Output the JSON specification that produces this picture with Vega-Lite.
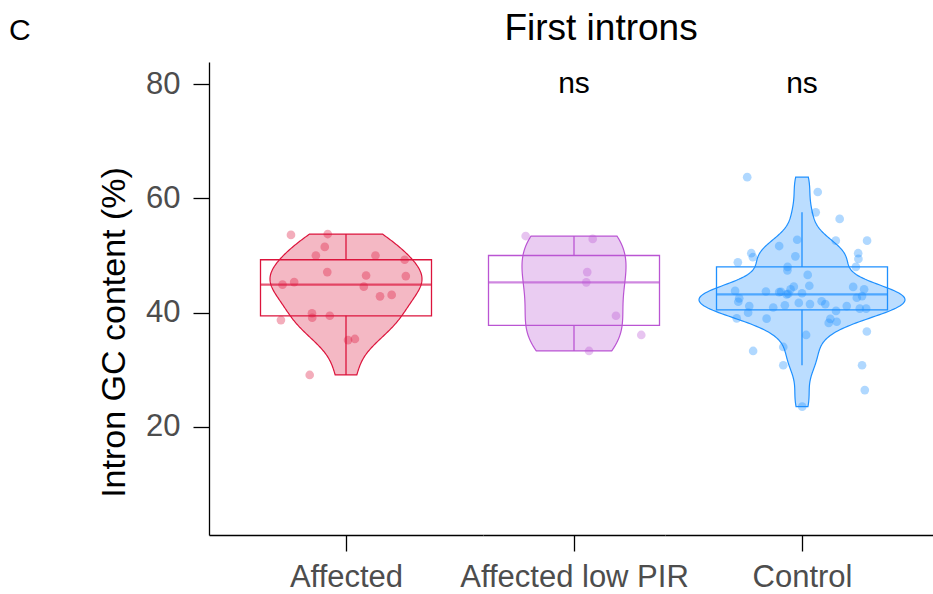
{
  "$schema": "https://vega.github.io/schema/vega-lite/v6.json",
  "padding": {"left": 9, "top": 10, "right": 0, "bottom": 0},
  "background": "white",
  "data": {"values": [
    {"group":"Affected","gc":53.6,"jitter":-0.241},
    {"group":"Affected","gc":53.75,"jitter":-0.08},
    {"group":"Affected","gc":51.5,"jitter":-0.093},
    {"group":"Affected","gc":50.0,"jitter":-0.132},
    {"group":"Affected","gc":50.0,"jitter":0.129},
    {"group":"Affected","gc":49.25,"jitter":0.257},
    {"group":"Affected","gc":47.1,"jitter":-0.082},
    {"group":"Affected","gc":46.5,"jitter":0.088},
    {"group":"Affected","gc":46.4,"jitter":0.262},
    {"group":"Affected","gc":44.9,"jitter":-0.278},
    {"group":"Affected","gc":45.35,"jitter":-0.227},
    {"group":"Affected","gc":44.55,"jitter":0.078},
    {"group":"Affected","gc":42.85,"jitter":0.149},
    {"group":"Affected","gc":43.1,"jitter":0.2},
    {"group":"Affected","gc":39.9,"jitter":-0.149},
    {"group":"Affected","gc":39.1,"jitter":-0.148},
    {"group":"Affected","gc":39.45,"jitter":-0.071},
    {"group":"Affected","gc":38.7,"jitter":-0.285},
    {"group":"Affected","gc":35.2,"jitter":0.009},
    {"group":"Affected","gc":35.4,"jitter":0.039},
    {"group":"Affected","gc":29.1,"jitter":-0.159},
    {"group":"Affected low PIR","gc":53.4,"jitter":-0.212},
    {"group":"Affected low PIR","gc":52.9,"jitter":0.082},
    {"group":"Affected low PIR","gc":47.1,"jitter":0.058},
    {"group":"Affected low PIR","gc":45.3,"jitter":0.054},
    {"group":"Affected low PIR","gc":39.45,"jitter":0.184},
    {"group":"Affected low PIR","gc":36.1,"jitter":0.295},
    {"group":"Affected low PIR","gc":33.3,"jitter":0.066},
    {"group":"Control","gc":63.7,"jitter":-0.24},
    {"group":"Control","gc":61.1,"jitter":0.069},
    {"group":"Control","gc":57.55,"jitter":0.06},
    {"group":"Control","gc":56.4,"jitter":0.165},
    {"group":"Control","gc":52.6,"jitter":0.285},
    {"group":"Control","gc":52.6,"jitter":0.148},
    {"group":"Control","gc":52.75,"jitter":-0.021},
    {"group":"Control","gc":51.65,"jitter":-0.1},
    {"group":"Control","gc":50.4,"jitter":-0.222},
    {"group":"Control","gc":49.7,"jitter":-0.215},
    {"group":"Control","gc":49.85,"jitter":-0.029},
    {"group":"Control","gc":50.4,"jitter":0.246},
    {"group":"Control","gc":49.4,"jitter":0.247},
    {"group":"Control","gc":48.8,"jitter":-0.281},
    {"group":"Control","gc":48.0,"jitter":-0.063},
    {"group":"Control","gc":47.4,"jitter":-0.064},
    {"group":"Control","gc":48.0,"jitter":0.236},
    {"group":"Control","gc":46.6,"jitter":0.025},
    {"group":"Control","gc":44.7,"jitter":0.032},
    {"group":"Control","gc":44.55,"jitter":-0.036},
    {"group":"Control","gc":44.1,"jitter":-0.05},
    {"group":"Control","gc":43.65,"jitter":-0.092},
    {"group":"Control","gc":43.7,"jitter":-0.158},
    {"group":"Control","gc":43.8,"jitter":-0.293},
    {"group":"Control","gc":43.2,"jitter":-0.067},
    {"group":"Control","gc":43.3,"jitter":-0.06},
    {"group":"Control","gc":43.4,"jitter":0.0},
    {"group":"Control","gc":43.6,"jitter":-0.1},
    {"group":"Control","gc":44.5,"jitter":0.224},
    {"group":"Control","gc":44.1,"jitter":0.272},
    {"group":"Control","gc":42.9,"jitter":0.263},
    {"group":"Control","gc":42.6,"jitter":0.24},
    {"group":"Control","gc":42.5,"jitter":-0.275},
    {"group":"Control","gc":41.9,"jitter":-0.279},
    {"group":"Control","gc":41.15,"jitter":-0.231},
    {"group":"Control","gc":40.9,"jitter":-0.126},
    {"group":"Control","gc":41.3,"jitter":-0.075},
    {"group":"Control","gc":41.7,"jitter":-0.014},
    {"group":"Control","gc":41.5,"jitter":0.035},
    {"group":"Control","gc":42.0,"jitter":0.086},
    {"group":"Control","gc":41.5,"jitter":0.102},
    {"group":"Control","gc":41.15,"jitter":0.196},
    {"group":"Control","gc":40.3,"jitter":0.149},
    {"group":"Control","gc":40.7,"jitter":0.253},
    {"group":"Control","gc":40.7,"jitter":0.281},
    {"group":"Control","gc":40.0,"jitter":-0.236},
    {"group":"Control","gc":39.0,"jitter":-0.286},
    {"group":"Control","gc":38.95,"jitter":-0.155},
    {"group":"Control","gc":38.9,"jitter":0.124},
    {"group":"Control","gc":38.2,"jitter":0.117},
    {"group":"Control","gc":38.4,"jitter":0.152},
    {"group":"Control","gc":36.7,"jitter":0.284},
    {"group":"Control","gc":36.1,"jitter":0.018},
    {"group":"Control","gc":33.3,"jitter":-0.214},
    {"group":"Control","gc":34.0,"jitter":-0.082},
    {"group":"Control","gc":30.8,"jitter":-0.082},
    {"group":"Control","gc":30.8,"jitter":0.263},
    {"group":"Control","gc":26.45,"jitter":0.275},
    {"group":"Control","gc":23.55,"jitter":0.001},
    {"group":"Affected low PIR","label":"ns"},
    {"group":"Control","label":"ns"}
  ]},
  "spacing": 0,
  "bounds": "flush",
  "hconcat": [
    {
      "width": 274, "height": 473,
      "title": {"text": "C", "anchor": "start", "frame": "group", "fontSize": 30, "fontWeight": "normal", "color": "black", "font": "Liberation Sans", "dx": -200, "dy": -2, "offset": 14},
      "transform": [{"filter": {"field": "group", "equal": "Affected"}}],
      "layer": [
        {
          "transform": [{"filter": {"field": "gc", "valid": true}}, {"density": "gc", "bandwidth": 3.16, "groupby": ["group"], "steps": 200}],
          "mark": {"type": "area", "orient": "horizontal", "color": "crimson", "fillOpacity": 0.3, "stroke": "crimson", "strokeWidth": 1.2},
          "encoding": {
            "y": {"field": "value", "type": "quantitative", "scale": {"domain": [1.1, 83.85], "nice": false, "zero": false},
              "axis": {"values": [20, 40, 60, 80], "tickSize": 16, "tickWidth": 1.3, "tickColor": "black", "domainColor": "black", "domainWidth": 1.3, "grid": false,
                "labelFontSize": 31, "labelColor": "#4d4d4d", "labelFont": "Liberation Sans", "labelPadding": 13,
                "title": "Intron GC content (%)", "titleFontSize": 34, "titleFontWeight": "normal", "titleColor": "black", "titleFont": "Liberation Sans", "titlePadding": 14, "titleY": 270}},
            "x": {"field": "density", "type": "quantitative", "stack": "center", "impute": null, "scale": {"nice": false, "padding": 61}, "axis": null}
          }
        },
        {
          "transform": [{"filter": {"field": "gc", "valid": true}}],
          "mark": {"type": "boxplot", "extent": 1.5, "size": 171, "outliers": false, "ticks": false,
            "box": {"color": "crimson", "fillOpacity": 0, "stroke": "crimson", "strokeWidth": 1.3},
            "median": {"color": "crimson", "thickness": 2.2},
            "rule": {"color": "crimson", "strokeWidth": 1.3}},
          "encoding": {"y": {"field": "gc", "type": "quantitative", "scale": {"domain": [1.1, 83.85], "nice": false, "zero": false}, "title": "Intron GC content (%)"}}
        },
        {
          "transform": [{"filter": {"field": "gc", "valid": true}}],
          "mark": {"type": "circle", "size": 75, "opacity": 0.35, "color": "crimson"},
          "encoding": {
            "x": {"field": "jitter", "type": "quantitative", "scale": {"domain": [-0.6, 0.6], "nice": false, "zero": false},
              "axis": {"values": [0], "labels": false, "tickSize": 16, "tickWidth": 1.3, "tickColor": "black", "domainColor": "black", "domainWidth": 1.3, "grid": false,
                "title": "Affected", "titleFontSize": 31, "titleColor": "#4d4d4d", "titleFontWeight": "normal", "titleFont": "Liberation Sans", "titlePadding": 11}},
            "y": {"field": "gc", "type": "quantitative", "scale": {"domain": [1.1, 83.85], "nice": false, "zero": false}, "title": "Intron GC content (%)"}
          }
        }
      ],
      "resolve": {"scale": {"x": "independent"}}
    },
    {
      "width": 182, "height": 473,
      "title": {"text": "First introns", "anchor": "middle", "frame": "group", "fontSize": 37, "fontWeight": "normal", "color": "black", "font": "Liberation Sans", "dx": 27, "offset": 14},
      "transform": [{"filter": {"field": "group", "equal": "Affected low PIR"}}],
      "layer": [
        {
          "transform": [{"filter": {"field": "gc", "valid": true}}, {"density": "gc", "bandwidth": 4.9, "groupby": ["group"], "steps": 200}],
          "mark": {"type": "area", "orient": "horizontal", "color": "mediumorchid", "fillOpacity": 0.3, "stroke": "mediumorchid", "strokeWidth": 1.2},
          "encoding": {
            "y": {"field": "value", "type": "quantitative", "scale": {"domain": [1.1, 83.85], "nice": false, "zero": false}, "axis": null},
            "x": {"field": "density", "type": "quantitative", "stack": "center", "impute": null, "scale": {"nice": false, "padding": 39}, "axis": null}
          }
        },
        {
          "transform": [{"filter": {"field": "gc", "valid": true}}],
          "mark": {"type": "boxplot", "extent": 1.5, "size": 171, "outliers": false, "ticks": false,
            "box": {"color": "mediumorchid", "fillOpacity": 0, "stroke": "mediumorchid", "strokeWidth": 1.3},
            "median": {"color": "mediumorchid", "thickness": 2.2},
            "rule": {"color": "mediumorchid", "strokeWidth": 1.3}},
          "encoding": {"y": {"field": "gc", "type": "quantitative", "scale": {"domain": [1.1, 83.85], "nice": false, "zero": false}, "axis": null}}
        },
        {
          "transform": [{"filter": {"field": "gc", "valid": true}}],
          "mark": {"type": "circle", "size": 75, "opacity": 0.35, "color": "mediumorchid"},
          "encoding": {
            "x": {"field": "jitter", "type": "quantitative", "scale": {"domain": [-0.3991, 0.3991], "nice": false, "zero": false},
              "axis": {"values": [0], "labels": false, "tickSize": 16, "tickWidth": 1.3, "tickColor": "black", "domainColor": "black", "domainWidth": 1.3, "grid": false,
                "title": "Affected low PIR", "titleFontSize": 31, "titleColor": "#4d4d4d", "titleFontWeight": "normal", "titleFont": "Liberation Sans", "titlePadding": 11}},
            "y": {"field": "gc", "type": "quantitative", "scale": {"domain": [1.1, 83.85], "nice": false, "zero": false}, "axis": null}
          }
        },
        {
          "transform": [{"filter": {"field": "label", "equal": "ns"}}],
          "mark": {"type": "text", "fontSize": 30, "color": "black", "font": "Liberation Sans", "baseline": "middle"},
          "encoding": {
            "y": {"datum": 80, "type": "quantitative", "scale": {"domain": [1.1, 83.85], "nice": false, "zero": false}, "axis": null},
            "text": {"field": "label", "type": "nominal"}
          }
        }
      ],
      "resolve": {"scale": {"x": "independent"}}
    },
    {
      "width": 274, "height": 473,
      "transform": [{"filter": {"field": "group", "equal": "Control"}}],
      "layer": [
        {
          "transform": [{"filter": {"field": "gc", "valid": true}}, {"density": "gc", "bandwidth": 2.26, "groupby": ["group"], "steps": 200}],
          "mark": {"type": "area", "orient": "horizontal", "color": "dodgerblue", "fillOpacity": 0.3, "stroke": "dodgerblue", "strokeWidth": 1.2},
          "encoding": {
            "y": {"field": "value", "type": "quantitative", "scale": {"domain": [1.1, 83.85], "nice": false, "zero": false}, "axis": null},
            "x": {"field": "density", "type": "quantitative", "stack": "center", "impute": null, "scale": {"nice": false, "padding": 34}, "axis": null}
          }
        },
        {
          "transform": [{"filter": {"field": "gc", "valid": true}}],
          "mark": {"type": "boxplot", "extent": 1.5, "size": 171, "outliers": false, "ticks": false,
            "box": {"color": "dodgerblue", "fillOpacity": 0, "stroke": "dodgerblue", "strokeWidth": 1.3},
            "median": {"color": "dodgerblue", "thickness": 2.2},
            "rule": {"color": "dodgerblue", "strokeWidth": 1.3}},
          "encoding": {"y": {"field": "gc", "type": "quantitative", "scale": {"domain": [1.1, 83.85], "nice": false, "zero": false}, "axis": null}}
        },
        {
          "transform": [{"filter": {"field": "gc", "valid": true}}],
          "mark": {"type": "circle", "size": 75, "opacity": 0.35, "color": "dodgerblue"},
          "encoding": {
            "x": {"field": "jitter", "type": "quantitative", "scale": {"domain": [-0.6, 0.6], "nice": false, "zero": false},
              "axis": {"values": [0], "labels": false, "tickSize": 16, "tickWidth": 1.3, "tickColor": "black", "domainColor": "black", "domainWidth": 1.3, "grid": false,
                "title": "Control", "titleFontSize": 31, "titleColor": "#4d4d4d", "titleFontWeight": "normal", "titleFont": "Liberation Sans", "titlePadding": 11}},
            "y": {"field": "gc", "type": "quantitative", "scale": {"domain": [1.1, 83.85], "nice": false, "zero": false}, "axis": null}
          }
        },
        {
          "transform": [{"filter": {"field": "label", "equal": "ns"}}],
          "mark": {"type": "text", "fontSize": 30, "color": "black", "font": "Liberation Sans", "baseline": "middle"},
          "encoding": {
            "y": {"datum": 80, "type": "quantitative", "scale": {"domain": [1.1, 83.85], "nice": false, "zero": false}, "axis": null},
            "text": {"field": "label", "type": "nominal"}
          }
        }
      ],
      "resolve": {"scale": {"x": "independent"}}
    }
  ],
  "config": {"view": {"stroke": null}, "font": "Liberation Sans"}
}
